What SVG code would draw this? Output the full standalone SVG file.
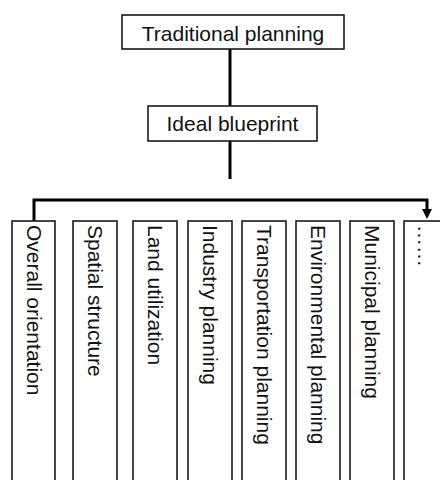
<svg xmlns="http://www.w3.org/2000/svg" width="440" height="480" viewBox="0 0 440 480">
<defs>
<style>
.box{fill:#fff;stroke:#1a1a1a;stroke-width:1.6}
.t{font-family:"Liberation Sans",Arial,sans-serif;font-size:21px;fill:#111}
.c{fill:none;stroke:#000;stroke-width:3}
</style>
<marker id="ah" markerUnits="userSpaceOnUse" markerWidth="10" markerHeight="10" refX="3" refY="5" orient="auto" viewBox="0 0 10 10">
<path d="M0,0 L10,5 L0,10 z" fill="#000"/>
</marker>
</defs>
<rect width="440" height="480" fill="#fff"/>
<g id="connectors">
<line class="c" x1="230" y1="49" x2="230" y2="106"/>
<line class="c" x1="230" y1="141" x2="230" y2="179"/>
<path class="c" d="M34,221 V200 H427 V212" marker-end="url(#ah)"/>
</g>
<g id="n-traditional">
<rect class="box" x="122" y="15" width="222" height="34"/>
<text class="t" x="233" y="41" text-anchor="middle">Traditional planning</text>
</g>
<g id="n-ideal">
<rect class="box" x="148" y="106" width="169" height="35"/>
<text class="t" x="232.5" y="131" text-anchor="middle">Ideal blueprint</text>
</g>
<g id="n-overall">
<rect class="box" x="12" y="221" width="43" height="270"/>
<text class="t" transform="translate(26.5,225) rotate(90)">Overall orientation</text>
</g>
<g id="n-spatial">
<rect class="box" x="73" y="221" width="44" height="270"/>
<text class="t" transform="translate(88,225) rotate(90)">Spatial structure</text>
</g>
<g id="n-land">
<rect class="box" x="133" y="221" width="44" height="270"/>
<text class="t" transform="translate(148,225) rotate(90)">Land utilization</text>
</g>
<g id="n-industry">
<rect class="box" x="188" y="221" width="44" height="270"/>
<text class="t" transform="translate(203,225) rotate(90)">Industry planning</text>
</g>
<g id="n-transport">
<rect class="box" x="242" y="221" width="44" height="270"/>
<text class="t" transform="translate(257,225) rotate(90)">Transportation planning</text>
</g>
<g id="n-environment">
<rect class="box" x="296" y="221" width="44" height="270"/>
<text class="t" transform="translate(311,225) rotate(90)">Environmental planning</text>
</g>
<g id="n-municipal">
<rect class="box" x="350" y="221" width="44" height="270"/>
<text class="t" transform="translate(365,225) rotate(90)">Municipal planning</text>
</g>
<g id="n-more">
<rect class="box" x="404" y="221" width="50" height="270"/>
<text class="t" transform="translate(418,225) rotate(90)">……</text>
</g>
</svg>
